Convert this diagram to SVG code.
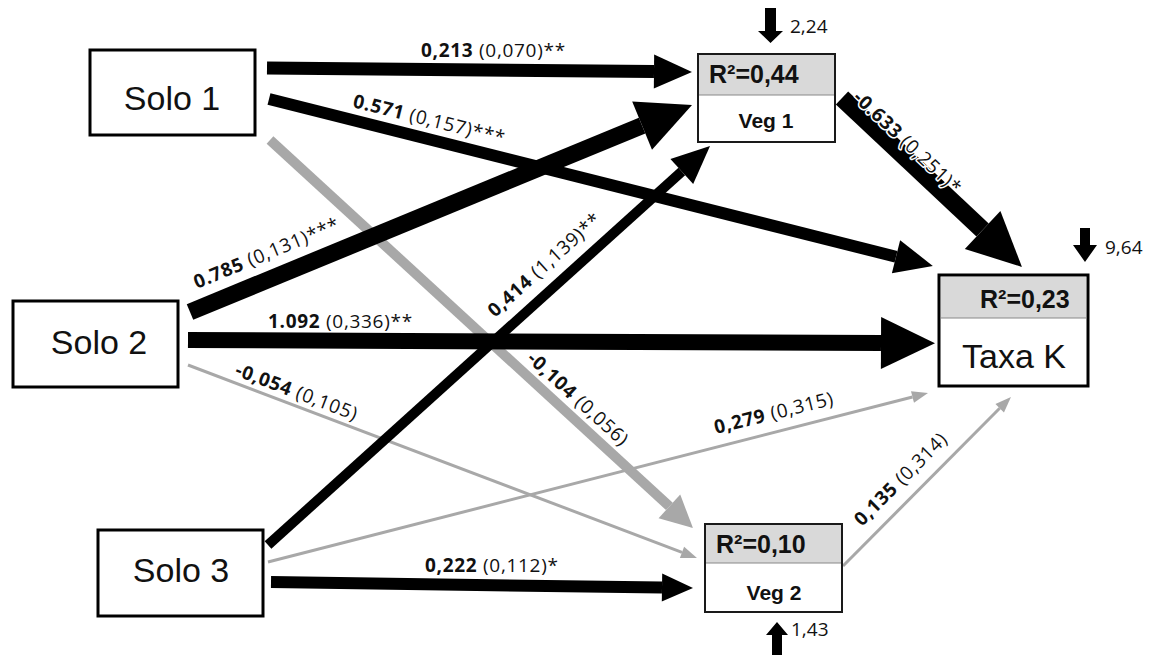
<svg xmlns="http://www.w3.org/2000/svg" width="1153" height="655" viewBox="0 0 1153 655">
<style>
.box{fill:#ffffff;stroke:#000000;stroke-width:3}
.vbox{fill:#ffffff;stroke:#1a1a1a;stroke-width:2}
.gray{fill:#d9d9d9}
.big{font-family:"Liberation Sans",Arial,sans-serif;font-size:34px;fill:#111}
.r2{font-family:"Liberation Sans",Arial,sans-serif;font-weight:bold;font-size:25px;fill:#111}
.veg{font-family:"Liberation Sans",Arial,sans-serif;font-weight:bold;font-size:21px;fill:#111}
.lab{font-family:"Open Sans","Liberation Sans",sans-serif;font-size:19px;letter-spacing:0.7px;fill:#111}
.halo{stroke:#ffffff;stroke-width:3;paint-order:stroke;stroke-linejoin:round}
.bk{stroke:#000000;fill:none}
.gr{stroke:#a8a8a8;fill:none}
.small{font-family:"Open Sans","Liberation Sans",sans-serif;font-size:19px;fill:#111}
</style>
<defs>
<marker id="hXL" markerUnits="userSpaceOnUse" orient="auto" refX="0" refY="0" markerWidth="60" markerHeight="60" overflow="visible"><path d="M0,-26 L54,0 L0,26 Z" fill="#000"/></marker>
<marker id="hL" markerUnits="userSpaceOnUse" orient="auto" refX="0" refY="0" markerWidth="60" markerHeight="60" overflow="visible"><path d="M0,-17 L38,0 L0,17 Z" fill="#000"/></marker>
<marker id="hM" markerUnits="userSpaceOnUse" orient="auto" refX="0" refY="0" markerWidth="60" markerHeight="60" overflow="visible"><path d="M0,-14 L31,0 L0,14 Z" fill="#000"/></marker>
<marker id="hG" markerUnits="userSpaceOnUse" orient="auto" refX="0" refY="0" markerWidth="60" markerHeight="60" overflow="visible"><path d="M0,-16 L32,0 L0,16 Z" fill="#a8a8a8"/></marker>
<marker id="hGs" markerUnits="userSpaceOnUse" orient="auto" refX="0" refY="0" markerWidth="60" markerHeight="60" overflow="visible"><path d="M0,-6 L16,0 L0,6 Z" fill="#a8a8a8"/></marker>
</defs>
<rect width="1153" height="655" fill="#ffffff"/>

<g id="connectors">
<line class="gr" stroke-width="10" x1="270" y1="140" x2="669.4" y2="506.4" marker-end="url(#hG)"/>
<line class="gr" stroke-width="3" x1="188" y1="365" x2="682" y2="552.3" marker-end="url(#hGs)"/>
<line class="gr" stroke-width="3" x1="268" y1="562" x2="912.5" y2="397" marker-end="url(#hGs)"/>
<line class="gr" stroke-width="3" x1="843" y1="566" x2="999.7" y2="408.3" marker-end="url(#hGs)"/>
<line class="bk" stroke-width="13" x1="267" y1="68" x2="654" y2="71.6" marker-end="url(#hL)"/>
<line class="bk" stroke-width="12" x1="269" y1="99" x2="896" y2="256.7" marker-end="url(#hL)"/>
<line class="bk" stroke-width="17" x1="190" y1="312" x2="642.1" y2="125.6" marker-end="url(#hXL)"/>
<line class="bk" stroke-width="16" x1="188" y1="340" x2="881" y2="343" marker-end="url(#hXL)"/>
<line class="bk" stroke-width="10" x1="268" y1="545" x2="681.8" y2="171.5" marker-end="url(#hL)"/>
<line class="bk" stroke-width="12" x1="271" y1="582" x2="662" y2="587.6" marker-end="url(#hM)"/>
<line class="bk" stroke-width="18" x1="842" y1="98" x2="982.6" y2="230" marker-end="url(#hXL)"/>
</g>

<g id="edge-labels">
<text class="lab" x="421" y="57"><tspan font-weight="bold">0,213</tspan> (0,070)**</text>
<text class="lab" transform="translate(352,107) rotate(14)"><tspan font-weight="bold">0.571</tspan> (0,157)***</text>
<text class="lab" transform="translate(197,289) rotate(-22.5)"><tspan font-weight="bold">0.785</tspan> (0,131)***</text>
<text class="lab" x="268" y="328"><tspan font-weight="bold">1.092</tspan> (0,336)**</text>
<text class="lab" transform="translate(234,375) rotate(20.8)"><tspan font-weight="bold">-0,054</tspan> (0,105)</text>
<text class="lab" transform="translate(495,318) rotate(-42)"><tspan font-weight="bold">0,414</tspan> (1,139)**</text>
<text class="lab" transform="translate(526,360) rotate(42.5)"><tspan font-weight="bold">-0,104</tspan> (0,056)</text>
<text class="lab" transform="translate(716,434) rotate(-14)"><tspan font-weight="bold">0,279</tspan> (0,315)</text>
<text class="lab" transform="translate(862,527) rotate(-45)"><tspan font-weight="bold">0,135</tspan> (0,314)</text>
<text class="lab" x="425" y="572"><tspan font-weight="bold">0,222</tspan> (0,112)*</text>
<text class="lab halo" transform="translate(852,99) rotate(43.4)"><tspan font-weight="bold">-0.633</tspan> (0,251)*</text>
</g>

<g id="solo1">
<rect class="box" x="90" y="50" width="165" height="85"/>
<text class="big" x="172" y="110" text-anchor="middle">Solo 1</text>
</g>
<g id="solo2">
<rect class="box" x="13" y="301" width="165" height="86"/>
<text class="big" x="99" y="354" text-anchor="middle">Solo 2</text>
</g>
<g id="solo3">
<rect class="box" x="98" y="530" width="165" height="86"/>
<text class="big" x="181" y="582" text-anchor="middle">Solo 3</text>
</g>

<g id="veg1">
<rect class="vbox" x="698" y="54" width="137" height="88"/>
<rect class="gray" x="699" y="55" width="135" height="40"/>
<line x1="699" y1="95" x2="834" y2="95" stroke="#888" stroke-width="1"/>
<text class="r2" x="709" y="83">R²=0,44</text>
<text class="veg" x="766" y="128" text-anchor="middle">Veg 1</text>
<polygon points="765,8 776,8 776,31 783,31 770.5,43 758,31 765,31" fill="#000"/>
<text class="small" x="790" y="33">2,24</text>
</g>

<g id="veg2">
<rect class="vbox" x="705" y="524" width="137" height="88"/>
<rect class="gray" x="706" y="525" width="135" height="38"/>
<line x1="706" y1="563" x2="841" y2="563" stroke="#888" stroke-width="1"/>
<text class="r2" x="716" y="553">R²=0,10</text>
<text class="veg" x="774" y="600" text-anchor="middle">Veg 2</text>
<polygon points="777,622 788,635 782,635 782,655 772,655 772,635 766,635" fill="#000"/>
<text class="small" x="791" y="636">1,43</text>
</g>

<g id="taxak">
<rect class="box" x="939" y="275" width="149" height="111" stroke-width="3.5"/>
<rect class="gray" x="941" y="277" width="145" height="41"/>
<line x1="941" y1="318" x2="1086" y2="318" stroke="#888" stroke-width="1"/>
<text class="r2" x="980" y="308" font-size="27">R²=0,23</text>
<text class="big" x="1014" y="368" text-anchor="middle" font-size="37">Taxa K</text>
<polygon points="1080,228 1090,228 1090,245 1097,245 1085,262 1073,245 1080,245" fill="#000"/>
<text class="small" x="1105" y="254">9,64</text>
</g>
</svg>
